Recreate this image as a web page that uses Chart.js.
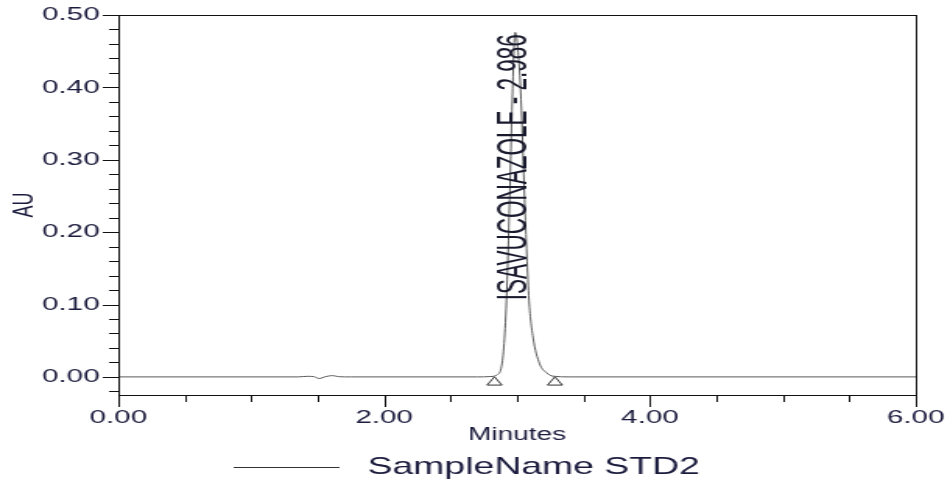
<!DOCTYPE html>
<html>
<head>
<meta charset="utf-8">
<script src="https://cdn.jsdelivr.net/npm/chart.js"></script>
<style>
  html, body { margin: 0; padding: 0; background: #fff; overflow: hidden; }
  /* the source image is stretched sideways, so the whole chart is too */
  #wrap { width: 610px; height: 479px; transform: scaleX(1.557377); transform-origin: 0 0; }
</style>
</head>
<body>
<div id="wrap"><canvas id="chart" width="610" height="479"></canvas></div>
<script>
// Chromatogram trace (minutes, AU)
const timeMin = [0.00, 1.35, 1.42, 1.47, 1.51, 1.56, 1.61, 1.66, 1.75, 2.70, 2.80, 2.85, 2.88, 2.90, 2.92, 2.944, 2.964, 2.986, 3.005, 3.03, 3.057, 3.09, 3.12, 3.17, 3.22, 3.27, 3.40, 6.00];
const absAU   = [0.000, 0.000, 0.0008, 0.0004, -0.0022, 0.0004, 0.0018, 0.0003, 0.000, 0.000, 0.0005, 0.003, 0.012, 0.040, 0.105, 0.245, 0.383, 0.476, 0.455, 0.383, 0.245, 0.106, 0.055, 0.018, 0.006, 0.001, 0.000, 0.000];

// Integration start / end markers
const markTimes = [2.83, 3.285];
const markAU = [-0.0075, -0.0075];

// Peak label
const peakName = 'ISAVUCONAZOLE - 2.986';
const peakTime = 2.986;
const peakLabelStartAU = 0.106;

// Axis ticks
const xTickValues = [0, 0.5, 1, 1.5, 2, 2.5, 3, 3.5, 4, 4.5, 5, 5.5, 6];
const xMajor = [0, 2, 4, 6];
const xMajorLabels = ['0.00', '2.00', '4.00', '6.00'];
const yTickValues = [-0.02, 0.00, 0.02, 0.04, 0.06, 0.08, 0.10, 0.12, 0.14, 0.16, 0.18, 0.20, 0.22, 0.24, 0.26, 0.28, 0.30, 0.32, 0.34, 0.36, 0.38, 0.40, 0.42, 0.44, 0.46, 0.48, 0.50];
const yMajor = [0, 0.1, 0.2, 0.3, 0.4, 0.5];
const yMajorLabels = ['0.00', '0.10', '0.20', '0.30', '0.40', '0.50'];

const seriesName = 'SampleName STD2';
const xTitle = 'Minutes';
const yTitle = 'AU';

const fontFamily = '"Liberation Sans", Arial, sans-serif';
const textColor = '#1b1b3d';

function majorIndex(v, list) {
  return list.findIndex(m => Math.abs(m - v) < 1e-6);
}

// Box, tick marks, titles, legend and peak label
const decorations = {
  id: 'decorations',
  afterDraw(chart) {
    const ctx = chart.ctx;
    const area = chart.chartArea;
    const xs = chart.scales.x;
    const ys = chart.scales.y;
    ctx.save();

    ctx.strokeStyle = '#111';
    ctx.lineWidth = 1;
    ctx.strokeRect(area.left + 0.5, area.top + 0.5, area.right - area.left, area.bottom - area.top);

    ctx.beginPath();
    xs.ticks.forEach(t => {
      const px = Math.round(xs.getPixelForValue(t.value)) + 0.5;
      const len = majorIndex(t.value, xMajor) >= 0 ? 12 : 7;
      ctx.moveTo(px, area.bottom);
      ctx.lineTo(px, area.bottom + len);
    });
    ys.ticks.forEach(t => {
      const py = Math.round(ys.getPixelForValue(t.value)) + 0.5;
      const len = majorIndex(t.value, yMajor) >= 0 ? 10 : 6;
      ctx.moveTo(area.left, py);
      ctx.lineTo(area.left - len, py);
    });
    ctx.stroke();

    ctx.fillStyle = textColor;
    ctx.font = '18px ' + fontFamily;
    ctx.textAlign = 'center';
    ctx.textBaseline = 'alphabetic';
    ctx.fillText(xTitle, (area.left + area.right) / 2, 440);

    ctx.save();
    ctx.translate(16, (area.top + area.bottom) / 2);
    ctx.rotate(-Math.PI / 2);
    ctx.font = '18px ' + fontFamily;
    ctx.textBaseline = 'middle';
    ctx.fillText(yTitle, 0, 0);
    ctx.restore();

    // legend
    ctx.strokeStyle = '#333';
    ctx.beginPath();
    ctx.moveTo(150, 467.5);
    ctx.lineTo(218, 467.5);
    ctx.stroke();
    ctx.font = '24px ' + fontFamily;
    ctx.textAlign = 'left';
    ctx.fillText(seriesName, 236, 474);

    // peak label, written upwards along the peak
    ctx.save();
    ctx.translate(xs.getPixelForValue(peakTime), ys.getPixelForValue(peakLabelStartAU));
    ctx.rotate(-Math.PI / 2);
    ctx.scale(1, 1.2);
    ctx.font = '22.5px ' + fontFamily;
    ctx.textAlign = 'left';
    ctx.textBaseline = 'middle';
    ctx.fillStyle = '#1a1a2e';
    ctx.fillText(peakName, 0, 0);
    ctx.restore();

    ctx.restore();
  }
};

new Chart(document.getElementById('chart'), {
  type: 'line',
  data: {
    datasets: [
      {
        label: seriesName,
        data: timeMin.map((t, i) => ({ x: t, y: absAU[i] })),
        borderColor: '#5a5a5a',
        borderWidth: 1,
        pointRadius: 0,
        fill: false,
        cubicInterpolationMode: 'monotone'
      },
      {
        type: 'scatter',
        label: 'markers',
        data: markTimes.map((t, i) => ({ x: t, y: markAU[i] })),
        showLine: false,
        pointStyle: 'triangle',
        pointRadius: 5.5,
        backgroundColor: '#fff',
        borderColor: '#333',
        borderWidth: 1
      }
    ]
  },
  options: {
    responsive: false,
    animation: false,
    events: [],
    layout: { padding: { top: 15, right: 22, left: 0, bottom: 0 } },
    plugins: {
      legend: { display: false },
      tooltip: { enabled: false }
    },
    scales: {
      x: {
        type: 'linear',
        min: 0,
        max: 6,
        afterBuildTicks: s => { s.ticks = xTickValues.map(v => ({ value: v })); },
        afterFit: s => { s.height = 84; s.paddingLeft = 0; s.paddingRight = 0; },
        border: { display: false },
        grid: { display: true, drawOnChartArea: false, drawTicks: false },
        ticks: {
          autoSkip: false,
          maxRotation: 0,
          padding: 11,
          color: textColor,
          font: { family: fontFamily, size: 19 },
          callback: v => {
            const i = majorIndex(v, xMajor);
            return i >= 0 ? xMajorLabels[i] : '';
          }
        }
      },
      y: {
        type: 'linear',
        min: -0.025,
        max: 0.5,
        afterBuildTicks: s => { s.ticks = yTickValues.map(v => ({ value: v })); },
        afterFit: s => { s.width = 76; s.paddingTop = 0; s.paddingBottom = 0; },
        border: { display: false },
        grid: { display: true, drawOnChartArea: false, drawTicks: false },
        ticks: {
          autoSkip: false,
          padding: 12,
          color: textColor,
          font: { family: fontFamily, size: 19 },
          callback: v => {
            const i = majorIndex(v, yMajor);
            return i >= 0 ? yMajorLabels[i] : '';
          }
        }
      }
    }
  },
  plugins: [decorations]
});
</script>
</body>
</html>
